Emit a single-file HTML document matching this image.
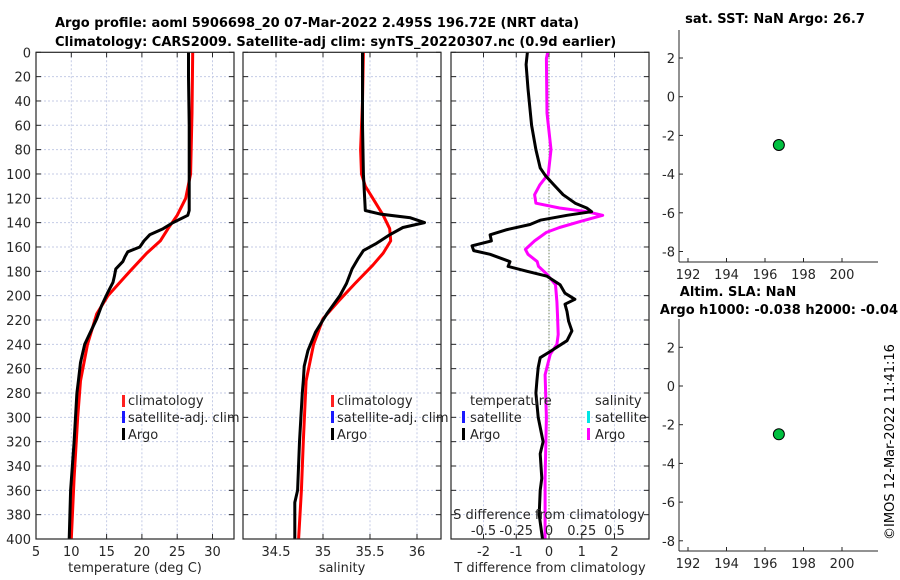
<!DOCTYPE html>
<html><head><meta charset="utf-8"><style>
html,body{margin:0;padding:0;background:#fff;}
svg{display:block;font-family:"DejaVu Sans","Liberation Sans",sans-serif;}
</style></head><body>
<svg id="chart" width="900" height="580" viewBox="0 0 900 580">
<g id="g"></g>
</svg>
<script>
// ---------- data ----------
const depthTicks = [0,20,40,60,80,100,120,140,160,180,200,220,240,260,280,300,320,340,360,380,400];
const tempTicks = [5,10,15,20,25,30];
const salTicks = [34.5,35,35.5,36];
const tdiffTicks = [-2,-1,0,1,2];
const sdiffTicks = [-0.5,-0.25,0,0.25,0.5];
const sdiffTickLabels = ["-0.5","-0.25","0","0.25","0.5"];
const latTicks = [2,0,-2,-4,-6,-8];
const lonTicks = [192,194,196,198,200];

const argoTDepth = [0,20,60,100,130,134,140,145,150,155,160,164,168,172,178,184,189,197,208,219,240,255,270,280,320,360,400];
const argoTemp   = [26.6,26.6,26.7,26.7,26.7,26.5,24.4,23.0,21.1,20.3,19.7,18.0,17.6,17.3,16.3,16.1,15.9,15.2,14.3,13.6,11.9,11.3,11.0,10.8,10.4,9.9,9.7];
const climTDepth = [0,50,100,120,134,145,155,165,180,200,215,240,270,300,350,400];
const climTemp   = [27.2,27.1,26.9,26.2,25.0,23.7,22.6,20.7,18.3,15.2,13.6,12.3,11.3,10.9,10.4,10.0];

const argoSDepth = [0,60,100,130,133,136,140,144,150,157,163,170,178,190,200,215,230,245,258,270,280,320,360,370,400];
const argoSal    = [35.42,35.42,35.43,35.45,35.61,35.93,36.08,35.85,35.71,35.57,35.43,35.37,35.31,35.25,35.18,35.04,34.92,34.84,34.80,34.79,34.78,34.75,34.73,34.70,34.70];
const climSDepth = [0,40,80,100,110,120,134,145,155,165,175,190,205,219,240,270,320,360,400];
const climSal    = [35.43,35.42,35.40,35.41,35.45,35.53,35.64,35.71,35.72,35.64,35.53,35.34,35.16,35.0,34.9,34.82,34.79,34.77,34.74];

const tdDepth = [0,10,30,60,80,95,101,109,117,124,128,131,134,138,141.5,145.7,150,155,159,163,166,172,176,180,184,191,198,203,207,213,221,229,237,246,251,259,270,280,300,320,330,350,360,380,400];
const tdVal   = [-0.66,-0.7,-0.64,-0.53,-0.4,-0.27,-0.12,0.15,0.43,0.8,1.15,1.3,0.55,-0.27,-0.58,-1.28,-1.8,-1.76,-2.35,-2.3,-1.8,-1.19,-1.25,-0.67,-0.06,0.34,0.49,0.79,0.49,0.55,0.6,0.7,0.55,0.03,-0.27,-0.33,-0.37,-0.4,-0.33,-0.18,-0.27,-0.22,-0.27,-0.3,-0.2];
const sdDepth = [0,5,50,80,100,109,117,124,128,131,134,139,144,148,155,162,166,172,176,182,191,205,216,232,240,248,265,300,350,400];
const sdVal   = [-0.01,-0.02,-0.015,0.015,-0.005,-0.07,-0.11,-0.1,0.08,0.29,0.41,0.24,0.08,-0.02,-0.11,-0.18,-0.16,-0.09,-0.08,-0.02,0.05,0.06,0.065,0.07,0.06,0.01,-0.03,-0.02,-0.03,-0.03];

const sstLon = [196.72], sstLat = [-2.495];
const slaLon = [196.72], slaLat = [-2.495];

// ---------- helpers ----------
const NS="http://www.w3.org/2000/svg";
const G=document.getElementById('g');
function el(tag,attrs,parent){const e=document.createElementNS(NS,tag);for(const k in attrs)e.setAttribute(k,attrs[k]);(parent||G).appendChild(e);return e;}
function txt(s,x,y,attrs,parent){const e=el('text',Object.assign({x:x,y:y,'font-size':13,fill:'#262626'},attrs||{}),parent);e.textContent=s;return e;}

const PT=52.3, PB=539;
const yD = d => PT + d*(PB-PT)/400;
const xT = t => 36 + (t-5)*7.06;
const xS = s => 276 + (s-34.5)*94;
const xTD = v => 549 + v*32.75;
const xSD = v => 549 + v*131;
const panels=[{x0:36,x1:234,name:'temperature-panel'},{x0:243,x1:441,name:'salinity-panel'},{x0:451,x1:649,name:'difference-panel'}];

function grid(p,xs,xf){
  const g=el('g',{});
  
  
  for(const d of depthTicks){ if(d===0||d===400)continue;
    el('line',{x1:p.x0,x2:p.x1,y1:yD(d),y2:yD(d),stroke:'#c4cbe6','stroke-width':1,'stroke-dasharray':'2,2'},g);}
  for(const v of xs){const x=xf(v); if(x<=p.x0+1||x>=p.x1-1)continue;
    el('line',{x1:x,x2:x,y1:PT,y2:PB,stroke:'#c4cbe6','stroke-width':1,'stroke-dasharray':'2,2'},g);}
  for(const d of depthTicks){ const y=yD(d);
    el('line',{x1:p.x0,x2:p.x0+5,y1:y,y2:y,stroke:'#262626'},g);
    el('line',{x1:p.x1-5,x2:p.x1,y1:y,y2:y,stroke:'#262626'},g);}
  for(const v of xs){const x=xf(v);
    el('line',{x1:x,x2:x,y1:PB,y2:PB-5,stroke:'#262626'},g);
    el('line',{x1:x,x2:x,y1:PT,y2:PT+5,stroke:'#262626'},g);}
  return g;
}
function frame(p){el('rect',{x:p.x0,y:PT,width:p.x1-p.x0,height:PB-PT,fill:'none',stroke:'#262626','stroke-width':1.2});}
function line(depths,vals,xf,color,name,w){
  const pts=depths.map((d,i)=>xf(vals[i]).toFixed(1)+','+yD(d).toFixed(1)).join(' ');
  const e=el('polyline',{points:pts,fill:'none',stroke:color,'stroke-width':w||3,'stroke-linejoin':'round'});
  
  
  return e;
}
function legBar(x,y,color){el('rect',{x:x,y:y-6,width:3,height:12,fill:color});}

// depth labels
depthTicks.forEach(d=>{const t=txt(String(d),31,yD(d)+5,{'text-anchor':'end'});
  
  });

// panel 1
grid(panels[0],tempTicks,xT);
line(climTDepth,climTemp,xT,'#ff0000','temperature-climatology-line');
line(argoTDepth,argoTemp,xT,'#000000','temperature-argo-line');
frame(panels[0]);
tempTicks.forEach(v=>{txt(String(v),xT(v),556,{'text-anchor':'middle'});});
txt('temperature (deg C)',135,572,{'text-anchor':'middle'});

// panel 2
grid(panels[1],salTicks,xS);
line(climSDepth,climSal,xS,'#ff0000','salinity-climatology-line');
line(argoSDepth,argoSal,xS,'#000000','salinity-argo-line');
frame(panels[1]);
salTicks.forEach(v=>{txt(String(v),xS(v),556,{'text-anchor':'middle'});});
txt('salinity',342,572,{'text-anchor':'middle'});

// panel 3
grid(panels[2],tdiffTicks,xTD);
el('line',{x1:549,x2:549,y1:PT,y2:PB,stroke:'#556b2f','stroke-width':1,'stroke-dasharray':'1,2'});
line(sdDepth,sdVal,xSD,'#ff00ff','salinity-difference-line');
line(tdDepth,tdVal,xTD,'#000000','temperature-difference-line');
frame(panels[2]);
tdiffTicks.forEach(v=>{txt(String(v),xTD(v),556,{'text-anchor':'middle'});});
txt('T difference from climatology',550,572,{'text-anchor':'middle'});
txt('S difference from climatology',549,519,{'text-anchor':'middle'});
sdiffTicks.forEach((v,i)=>{txt(sdiffTickLabels[i],xSD(v),535,{'text-anchor':'middle'});});

// legends
function legend(x,name){const g=el('g',{});
  
  
  legBar(x,401,'#ff2020');txt('climatology',x+6,405,{},g);
  legBar(x,417,'#1a1aff');txt('satellite-adj. clim',x+6,422,{},g);
  legBar(x,434,'#000');txt('Argo',x+6,439,{},g);}
legend(122,'temperature-legend');
legend(331,'salinity-legend');
(function(){const g=el('g',{});
  
  
  txt('temperature',470,405,{},g);
  legBar(462,417,'#1a1aff');txt('satellite',470,422,{},g);
  legBar(462,434,'#000');txt('Argo',470,439,{},g);
  txt('salinity',595,405,{},g);
  legBar(587,417,'#00e5e5');txt('satellite',595,422,{},g);
  legBar(587,434,'#ff00ff');txt('Argo',595,439,{},g);})();

// titles
txt('Argo profile: aoml 5906698_20 07-Mar-2022 2.495S 196.72E (NRT data)',55,27,{'font-weight':'bold',fill:'#000'});
txt('Climatology: CARS2009. Satellite-adj clim: synTS_20220307.nc (0.9d earlier)',55,46,{'font-weight':'bold',fill:'#000'});

// right scatter panels
const xLon = v => 765 + (v-196)*19.25;
function scatterPanel(y0,yTop,yBottom,lon,lat,name){
  const yL = v => y0 - v*19.35;
  const g=el('g',{});
  
  
  el('line',{x1:679,x2:679,y1:yTop,y2:yBottom,stroke:'#262626'},g);
  el('line',{x1:679,x2:878,y1:yBottom,y2:yBottom,stroke:'#262626'},g);
  latTicks.forEach(v=>{const y=yL(v);el('line',{x1:679,x2:683,y1:y,y2:y,stroke:'#262626'},g);
    txt(String(v),675,y+5,{'text-anchor':'end'},g);});
  lonTicks.forEach(v=>{const x=xLon(v);el('line',{x1:x,x2:x,y1:yBottom,y2:yBottom-4,stroke:'#262626'},g);
    txt(String(v),x,yBottom+17,{'text-anchor':'middle'},g);});
  lon.forEach((v,i)=>{const c=el('circle',{cx:xLon(v),cy:yL(lat[i]),r:5.5,fill:'#00c040',stroke:'#000','stroke-width':1},g);
    
    });
}
scatterPanel(96.7,30,262,sstLon,sstLat,'sst-panel');
scatterPanel(386,319,551,slaLon,slaLat,'sla-panel');
txt('sat. SST: NaN Argo: 26.7',775,23,{'font-weight':'bold',fill:'#000','text-anchor':'middle'});
txt('Altim. SLA: NaN',738,296,{'font-weight':'bold',fill:'#000','text-anchor':'middle'});
txt('Argo h1000: -0.038 h2000: -0.04',898,314,{'font-weight':'bold',fill:'#000','text-anchor':'end'});
txt('©IMOS 12-Mar-2022 11:41:16',0,0,{transform:'translate(894,442) rotate(-90)','text-anchor':'middle',fill:'#000'});
</script>
</body></html>
